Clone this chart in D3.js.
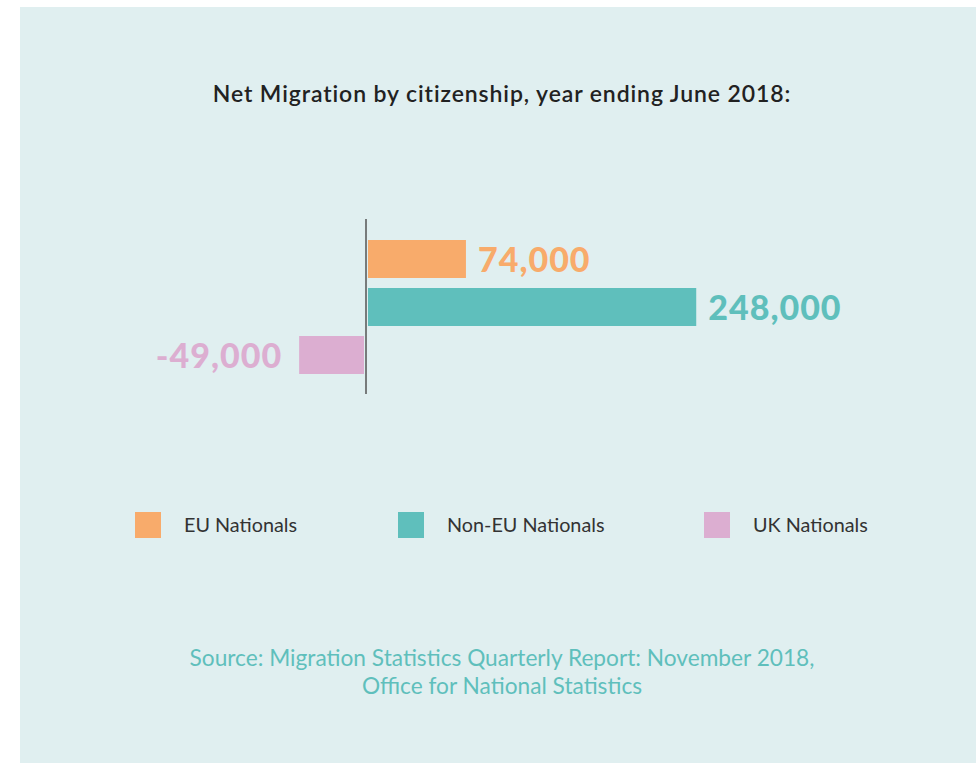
<!DOCTYPE html>
<html>
<head>
<meta charset="utf-8">
<script src="https://cdn.jsdelivr.net/npm/d3@7"></script>
<style>
  body { margin: 0; background: #fff; }
  svg { display: block; font-family: Lato, "Open Sans", sans-serif; }
</style>
</head>
<body>
<div id="chart"></div>
<script>
// data
var categories = ["EU Nationals", "Non-EU Nationals", "UK Nationals"];
var values = [74000, 248000, -49000];
var valueLabels = ["74,000", "248,000", "-49,000"];
var colors = ["#f8ab6b", "#5fbfbc", "#dcaed1"];

var W = 980, H = 763;

var svg = d3.select("#chart").append("svg")
    .attr("width", W)
    .attr("height", H);

// panel
svg.append("rect")
    .attr("x", 20).attr("y", 7)
    .attr("width", 956).attr("height", H - 7)
    .attr("fill", "#e0eff0");

svg.append("text")
    .attr("x", 502).attr("y", 102)
    .attr("text-anchor", "middle")
    .attr("font-size", 23)
    .attr("font-weight", 600)
    .attr("letter-spacing", 0.9)
    .attr("fill", "#222")
    .text("Net Migration by citizenship, year ending June 2018:");

// scales
var x = d3.scaleLinear()
    .domain([-49000, 248000])
    .range([366 - 49 * 1.3235, 366 + 248 * 1.3235]);

var y = d3.scaleBand()
    .domain(categories)
    .range([240, 374])
    .paddingInner(10 / 48)
    .paddingOuter(0);

var gap = 2;

svg.selectAll("rect.bar")
    .data(values)
    .enter().append("rect")
    .attr("class", "bar")
    .attr("x", function(d) { return d >= 0 ? x(0) + gap : x(d) - gap; })
    .attr("y", function(d, i) { return y(categories[i]); })
    .attr("width", function(d) { return Math.abs(x(d) - x(0)); })
    .attr("height", y.bandwidth())
    .attr("fill", function(d, i) { return colors[i]; });

// zero line
svg.append("line")
    .attr("x1", x(0)).attr("x2", x(0))
    .attr("y1", 219).attr("y2", 394)
    .attr("stroke", "#555")
    .attr("stroke-width", 1.5);

svg.selectAll("text.val")
    .data(values)
    .enter().append("text")
    .attr("class", "val")
    .attr("x", function(d) { return d >= 0 ? x(d) + gap + 12 : x(d) - gap - 17; })
    .attr("y", function(d, i) { return y(categories[i]) + y.bandwidth() / 2 + 13; })
    .attr("text-anchor", function(d) { return d >= 0 ? "start" : "end"; })
    .attr("font-size", 34)
    .attr("font-weight", 900)
    .attr("letter-spacing", 1)
    .attr("fill", function(d, i) { return colors[i]; })
    .text(function(d, i) { return valueLabels[i]; });

// legend
var legendX = [135, 398, 704];
var lg = svg.selectAll("g.leg")
    .data(categories)
    .enter().append("g")
    .attr("class", "leg")
    .attr("transform", function(d, i) { return "translate(" + legendX[i] + ",512)"; });

lg.append("rect")
    .attr("width", 26).attr("height", 26)
    .attr("fill", function(d, i) { return colors[i]; });

lg.append("text")
    .attr("x", 49).attr("y", 20)
    .attr("font-size", 19.8)
    .attr("fill", "#333")
    .text(function(d) { return d; });

// source
var source = ["Source: Migration Statistics Quarterly Report: November 2018,", "Office for National Statistics"];
svg.selectAll("text.src")
    .data(source)
    .enter().append("text")
    .attr("class", "src")
    .attr("x", 502)
    .attr("y", function(d, i) { return 666 + i * 28; })
    .attr("text-anchor", "middle")
    .attr("font-size", 22.7)
    .attr("font-weight", 400)
    .attr("fill", "#5fbfbc")
    .text(function(d) { return d; });
</script>
</body>
</html>
